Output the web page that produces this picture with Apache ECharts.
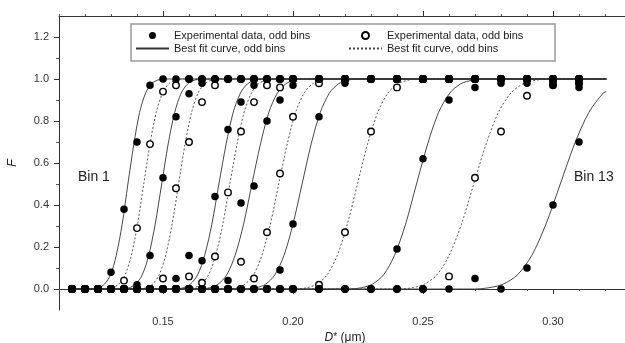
<!DOCTYPE html>
<html><head><meta charset="utf-8">
<script src="https://cdn.jsdelivr.net/npm/echarts@6/dist/echarts.min.js"></script>
<style>html,body{margin:0;padding:0;background:#fff}#c{width:625px;height:343px}</style>
</head><body><div id="c"></div>
<script>
// Measured D* (µm) grid
const D = [0.115,0.12,0.125,0.13,0.135,0.14,0.145,0.15,0.155,0.16,0.165,0.17,0.175,0.18,0.185,0.19,0.195,0.20,0.21,0.22,0.23,0.24,0.25,0.26,0.27,0.28,0.29,0.30,0.31];
// Experimental F per bin (same D grid)
const bin1  = [0,0,0,0.08,0.38,0.70,0.97,1,1,1,1,1,1,1,1,1,1,1,1,1,1,1,1,1,1,1,1,1,1];
const bin2  = [0,0,0,0,0.04,0.29,0.69,0.94,0.97,1,1,1,1,1,1,1,1,1,1,1,1,1,1,1,1,1,1,1,1];
const bin3  = [0,0,0,0,0,0.02,0.16,0.53,0.82,0.93,0.98,1,1,1,1,1,1,1,1,1,1,1,1,1,1,1,0.98,1,1];
const bin4  = [0,0,0,0,0,0,0,0.05,0.48,0.70,0.89,0.97,1,1,1,1,1,1,1,1,1,1,1,1,1,1,1,1,1];
const bin5  = [0,0,0,0,0,0,0,0,0.05,0.16,0.135,0.44,0.76,0.89,0.97,1,1,1,1,1,1,1,1,1,1,1,1,0.97,1];
const bin6  = [0,0,0,0,0,0,0,0,0,0.06,0.03,0.155,0.46,0.75,0.89,0.97,0.96,1,1,1,1,1,1,1,1,1,1,1,1];
const bin7  = [0,0,0,0,0,0,0,0,0,0,0,0,0.04,0.41,0.49,0.80,0.90,0.97,1,1,1,1,1,1,1,1,1,1,0.96];
const bin8  = [0,0,0,0,0,0,0,0,0,0,0,0,0,0.13,0.05,0.27,0.55,0.82,0.98,1,1,1,1,1,1,1,1,1,1];
const bin9  = [0,0,0,0,0,0,0,0,0,0,0,0,0,0,0,0,0.09,0.31,0.82,0.98,1,1,1,1,1,1,1,1,0.98];
const bin10 = [0,0,0,0,0,0,0,0,0,0,0,0,0,0,0,0,0,0,0.02,0.27,0.75,0.96,1,1,1,1,1,0.99,1];
const bin11 = [0,0,0,0,0,0,0,0,0,0,0,0,0,0,0,0,0,0,0,0,0,0.19,0.62,0.90,0.96,0.98,1,1,1];
const bin12 = [0,0,0,0,0,0,0,0,0,0,0,0,0,0,0,0,0,0,0,0,0,0,0,0.06,0.53,0.75,0.92,0.97,0.98];
const bin13 = [0,0,0,0,0,0,0,0,0,0,0,0,0,0,0,0,0,0,0,0,0,0,0,0,0.05,0,0.10,0.40,0.70];
const oddBins  = [bin1, bin3, bin5, bin7, bin9, bin11, bin13];
const evenBins = [bin2, bin4, bin6, bin8, bin10, bin12];

// Best-fit curves: D* where each curve crosses the F levels below
const fitLevels = [0,0.006,0.023,0.067,0.159,0.309,0.5,0.691,0.841,0.933,0.977,0.994,1];
const fitD1  = [0.1230,0.1253,0.1275,0.1298,0.1320,0.1343,0.1365,0.1388,0.1410,0.1433,0.1455,0.1478,0.1500];
const fitD2  = [0.1282,0.1306,0.1330,0.1354,0.1378,0.1402,0.1426,0.1450,0.1474,0.1498,0.1522,0.1546,0.1570];
const fitD3  = [0.1345,0.1370,0.1395,0.1420,0.1445,0.1470,0.1495,0.1520,0.1545,0.1570,0.1595,0.1620,0.1645];
const fitD4  = [0.1410,0.1435,0.1460,0.1485,0.1510,0.1535,0.1560,0.1585,0.1610,0.1635,0.1660,0.1685,0.1710];
const fitD5  = [0.1550,0.1578,0.1605,0.1633,0.1660,0.1688,0.1715,0.1743,0.1770,0.1798,0.1825,0.1853,0.1880];
const fitD6  = [0.1592,0.1620,0.1647,0.1675,0.1702,0.1730,0.1757,0.1785,0.1812,0.1840,0.1867,0.1895,0.1922];
const fitD7  = [0.1647,0.1680,0.1712,0.1745,0.1777,0.1810,0.1842,0.1875,0.1907,0.1940,0.1972,0.2005,0.2037];
const fitD8  = [0.1750,0.1783,0.1815,0.1848,0.1880,0.1913,0.1945,0.1978,0.2010,0.2043,0.2075,0.2108,0.2140];
const fitD9  = [0.1825,0.1860,0.1895,0.1930,0.1965,0.2000,0.2035,0.2070,0.2105,0.2140,0.2175,0.2210,0.2245];
const fitD10 = [0.2014,0.2053,0.2092,0.2131,0.2170,0.2209,0.2248,0.2287,0.2326,0.2365,0.2404,0.2443,0.2482];
const fitD11 = [0.2220,0.2263,0.2305,0.2348,0.2390,0.2433,0.2475,0.2518,0.2560,0.2603,0.2645,0.2688,0.2730];
const fitD12 = [0.2410,0.2458,0.2505,0.2553,0.2600,0.2648,0.2695,0.2743,0.2790,0.2838,0.2885,0.2933,0.2980];
const fitD13 = [0.2698,0.2753,0.2808,0.2863,0.2918,0.2973,0.3028,0.3083,0.3138,0.3193,0.3248,0.3303,0.3358];
const fitDs = [fitD1,fitD2,fitD3,fitD4,fitD5,fitD6,fitD7,fitD8,fitD9,fitD10,fitD11,fitD12,fitD13];
const curveStart = 0.115, curveEnd = 0.3205;
const fitEndF = [1,1,1,1,1,1,1,1,1,1,1,1,0.94];

const xTickLabels = [0.15,0.20,0.25,0.30];
const yTickLabels = [0,0.2,0.4,0.6,0.8,1.0,1.2];
const yMinorTicks = [0.1,0.3,0.5,0.7,0.9,1.1];
const legendText = {
  oddExp: 'Experimental data, odd bins',
  oddFit: 'Best fit curve, odd bins',
  evenExp: 'Experimental data, odd bins',
  evenFit: 'Best fit curve, odd bins'
};
const annotations = ['Bin 1', 'Bin 13'];

const FONT = 'Liberation Sans, Arial, sans-serif';
const chart = echarts.init(document.getElementById('c'), null, {renderer: 'canvas'});

function pts(bins){ const out=[]; bins.forEach(b=>b.forEach((f,i)=>out.push([D[i],f]))); return out; }
function fitPts(k){
  const p=[[curveStart,0]];
  fitDs[k].forEach((d,i)=>{ if(d<=curveEnd) p.push([d,fitLevels[i]]); });
  p.push([curveEnd,fitEndF[k]]);
  return p;
}

const series = [];
for (let k=0;k<13;k++){
  const odd = (k%2===0);
  series.push({
    type:'line', name: odd?'oddFit':'evenFit', data: fitPts(k),
    xAxisIndex:0, yAxisIndex:0,
    symbol:'none', smooth:0.3, z:2, silent:true,
    itemStyle:{color:'#333'},
    lineStyle: odd ? {color:'#333', width:0.9, type:'solid'} : {color:'#444', width:0.9, type:[2,2]}
  });
}
series.push({
  type:'scatter', name:'evenExp', data: pts(evenBins), symbol:'circle', symbolSize:6.5, z:3,
  itemStyle:{color:'#fff', borderColor:'#000', borderWidth:1.4, opacity:1}
});
series.push({
  type:'scatter', name:'oddExp', data: pts(oddBins), symbol:'circle', symbolSize:7.5, z:4,
  itemStyle:{color:'#000', opacity:1}
});

const axisLineStyle = {color:'#333', width:1};
const xBase = {type:'value', min:0.11, max:0.33, interval:0.01, splitLine:{show:false}};
const yBase = {type:'value', min:-0.1, max:1.3, interval:0.1, splitLine:{show:false}};
const legText = {fontSize:11, color:'#222', fontFamily:FONT};

chart.setOption({
  animation:false,
  backgroundColor:'#fff',
  textStyle:{fontFamily:FONT},
  grid:{left:59, right:-6, top:16, bottom:33, containLabel:false, outerBoundsMode:'none'},
  xAxis:[
    Object.assign({}, xBase, {position:'bottom', axisLine:{show:true, lineStyle:axisLineStyle},
      axisTick:{show:true, length:2, lineStyle:{color:'#555'}},
      axisLabel:{show:true, customValues:xTickLabels, formatter:v=>v.toFixed(2), fontSize:11, color:'#333', margin:6, fontFamily:FONT},
      name:'{i|D}{s|*} (μm)', nameLocation:'middle', nameGap:17,
      nameTextStyle:{fontSize:12, color:'#222', fontFamily:FONT, rich:{i:{fontStyle:'italic', fontSize:12, fontFamily:FONT}, s:{fontSize:10, verticalAlign:'top', fontFamily:FONT}}}
    }),
    Object.assign({}, xBase, {position:'bottom', axisLine:{show:false}, axisLabel:{show:false},
      axisTick:{show:true, length:5, customValues:xTickLabels, lineStyle:{color:'#333'}}}),
    Object.assign({}, xBase, {position:'top', axisLine:{show:true, lineStyle:axisLineStyle}, axisLabel:{show:false},
      axisTick:{show:true, length:2, lineStyle:{color:'#555'}}}),
    Object.assign({}, xBase, {position:'top', axisLine:{show:false}, axisLabel:{show:false},
      axisTick:{show:true, length:5, customValues:xTickLabels, lineStyle:{color:'#333'}}})
  ],
  yAxis:[
    Object.assign({}, yBase, {position:'left', axisLine:{show:true, lineStyle:axisLineStyle},
      axisTick:{show:true, length:5, customValues:yTickLabels, lineStyle:{color:'#333'}},
      axisLabel:{show:true, customValues:yTickLabels, formatter:v=>v.toFixed(1), fontSize:11, color:'#333', margin:10, fontFamily:FONT},
      name:'F', nameLocation:'middle', nameRotate:90, nameGap:40,
      nameTextStyle:{fontSize:13, fontStyle:'italic', color:'#222', fontFamily:FONT}
    }),
    Object.assign({}, yBase, {position:'left', axisLine:{show:false}, axisLabel:{show:false},
      axisTick:{show:true, length:3, customValues:yMinorTicks, lineStyle:{color:'#555'}}})
  ],
  legend:[
    {orient:'vertical', left:135, top:30, itemWidth:33, itemHeight:7, itemGap:2, padding:0, selectedMode:false,
     data:['oddExp', {name:'oddFit', itemStyle:{opacity:0}}], formatter:n=>legendText[n], textStyle:legText},
    {orient:'vertical', left:348, top:30, itemWidth:33, itemHeight:7, itemGap:2, padding:0, selectedMode:false,
     data:['evenExp', {name:'evenFit', itemStyle:{opacity:0}}], formatter:n=>legendText[n], textStyle:legText}
  ],
  graphic:[
    {type:'rect', z:-1, shape:{x:131, y:24, width:424, height:37}, style:{fill:'#fff', stroke:'#999', lineWidth:1.5}},
    {type:'text', left:78, top:170, style:{text:annotations[0], fontSize:14, fill:'#222', fontFamily:FONT}},
    {type:'text', left:574, top:170, style:{text:annotations[1], fontSize:14, fill:'#222', fontFamily:FONT}}
  ],
  series: series
});
</script>
</body></html>
